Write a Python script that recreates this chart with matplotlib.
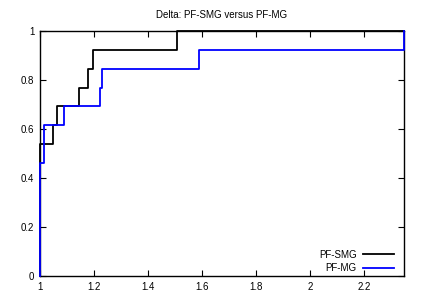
import matplotlib
matplotlib.use('Agg')
import matplotlib.pyplot as plt
import numpy as np

plt.rcParams['font.family'] = ['Liberation Sans', 'DejaVu Sans']

# performance profile, 13 problems
n_prob = 13
smg_tau = [1.0, 1.0, 1.049, 1.062, 1.144, 1.179, 1.198, 1.506, 2.348]
smg_cnt = [0, 7, 8, 9, 10, 11, 12, 13, 13]
mg_tau = [1.0, 1.0, 1.013, 1.09, 1.222, 1.228, 1.589, 2.348]
mg_cnt = [0, 6, 8, 9, 10, 11, 12, 13]

xticks = [1, 1.2, 1.4, 1.6, 1.8, 2, 2.2]
yticks = [0, 0.2, 0.4, 0.6, 0.8, 1]

fig = plt.figure(figsize=(4.23, 2.97), dpi=100)
ax = fig.add_axes([40/423, 21/297, 364/423, 245/297])

ax.plot(smg_tau, np.array(smg_cnt)/n_prob, drawstyle='steps-post', color='black', lw=1.3,
        label='PF-SMG', zorder=3, clip_on=False)
ax.plot(mg_tau, np.array(mg_cnt)/n_prob, drawstyle='steps-post', color='#0000ff', lw=1.3,
        label='PF-MG', zorder=3, clip_on=False)

ax.set_xlim(1, 2.348)
ax.set_ylim(0, 1)
ax.set_xticks(xticks)
ax.set_xticklabels([f'{t:g}' for t in xticks])
ax.set_yticks(yticks)
ax.set_yticklabels([f'{t:g}' for t in yticks])
ax.tick_params(direction='in', top=True, right=True, length=4, width=0.8, labelsize=7, pad=4)
for s in ax.spines.values():
    s.set_linewidth(1.0)

ax.set_title('Delta: PF-SMG versus PF-MG', fontsize=7, pad=9)
ax.legend(loc='lower right', bbox_to_anchor=(0.972, 0.012), frameon=False, markerfirst=False,
          fontsize=7, handlelength=3.2, handletextpad=0.6, labelspacing=0.35,
          borderpad=0, borderaxespad=0)

fig.savefig('out.png', dpi=100)
